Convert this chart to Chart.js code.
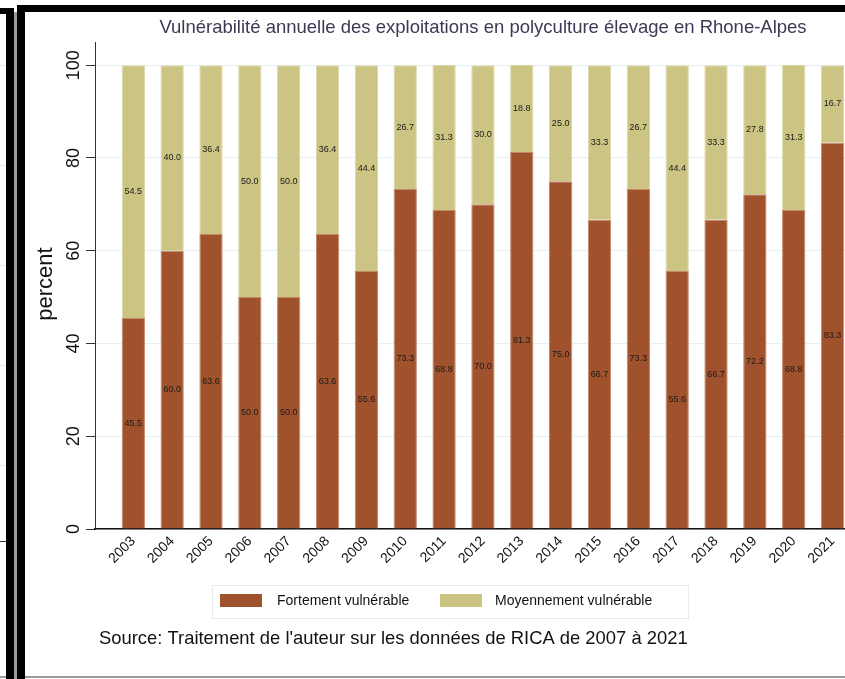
<!DOCTYPE html>
<html><head><meta charset="utf-8">
<script src="https://cdn.jsdelivr.net/npm/chart.js@4/dist/chart.umd.min.js"></script>
<style>
html,body{margin:0;padding:0;background:#fff;width:845px;height:679px;overflow:hidden;position:relative}
.b{position:absolute;background:#000}
.g{position:absolute;background:#9a9a9a}
.f{position:absolute;background:#e3e8ec;height:1px;left:0;width:6px}
</style></head><body>
<div class="b" style="left:0;top:8px;width:14px;height:6px"></div>
<div class="b" style="left:6px;top:8px;width:8px;height:671px"></div>
<div class="g" style="left:14px;top:12px;width:3px;height:667px"></div>
<div class="b" style="left:17px;top:5px;width:828px;height:7px"></div>
<div class="b" style="left:17px;top:5px;width:8px;height:674px"></div>
<div class="g" style="left:25px;top:676px;width:820px;height:2px"></div>
<div class="g" style="left:0;top:676px;width:6px;height:2px"></div>
<div class="f" style="top:65px"></div>
<div class="f" style="top:165px"></div>
<div class="f" style="top:265px"></div>
<div class="f" style="top:365px"></div>
<div class="f" style="top:465px"></div>
<div class="f" style="top:541px;background:#333"></div>
<canvas id="c" width="820" height="664" style="position:absolute;left:25px;top:12px"></canvas>
<script>
const years = ['2003','2004','2005','2006','2007','2008','2009','2010','2011','2012','2013','2014','2015','2016','2017','2018','2019','2020','2021'];
const fortement = [45.5,60.0,63.6,50.0,50.0,63.6,55.6,73.3,68.8,70.0,81.3,75.0,66.7,73.3,55.6,66.7,72.2,68.8,83.3];
const moyennement = [54.5,40.0,36.4,50.0,50.0,36.4,44.4,26.7,31.3,30.0,18.8,25.0,33.3,26.7,44.4,33.3,27.8,31.3,16.7];
const seriesNames = ['Fortement vulnérable','Moyennement vulnérable'];
const titleText = 'Vulnérabilité annuelle des exploitations en polyculture élevage en Rhone-Alpes';
const sourceText = "Source: Traitement de l'auteur sur les données de RICA de 2007 à 2021";
const yAxisTitle = 'percent';

const FONT = '"Liberation Sans", Arial, sans-serif';

const deco = {
  id: 'deco',
  afterDatasetsDraw(chart) {
    const ctx = chart.ctx;
    ctx.save();
    ctx.font = '9px ' + FONT;
    ctx.fillStyle = '#1a1a1a';
    ctx.textAlign = 'center';
    ctx.textBaseline = 'middle';
    chart.data.datasets.forEach((ds, di) => {
      const meta = chart.getDatasetMeta(di);
      meta.data.forEach((bar, i) => {
        const v = ds.data[i];
        ctx.fillText(v.toFixed(1), bar.x, (bar.y + bar.base) / 2);
      });
    });
    ctx.restore();
  },
  afterDraw(chart) {
    const ctx = chart.ctx;
    const ys = chart.scales.y;
    ctx.save();
    // title
    ctx.fillStyle = '#3a3a55';
    ctx.font = '18.5px ' + FONT;
    ctx.textAlign = 'center';
    ctx.textBaseline = 'middle';
    ctx.fillText(titleText, 458, 16);
    // y tick labels (rotated)
    ctx.fillStyle = '#111';
    ctx.font = '18px ' + FONT;
    ys.ticks.forEach(t => {
      const py = ys.getPixelForValue(t.value);
      ctx.save();
      ctx.translate(49, py);
      ctx.rotate(-Math.PI / 2);
      ctx.fillText(String(t.value), 0, 0);
      ctx.restore();
    });
    // y axis title
    ctx.save();
    ctx.font = '22px ' + FONT;
    ctx.translate(21, 272);
    ctx.rotate(-Math.PI / 2);
    ctx.fillText(yAxisTitle, 0, 0);
    ctx.restore();
    // legend
    ctx.strokeStyle = '#e6ecee';
    ctx.lineWidth = 1;
    ctx.strokeRect(187.5, 573.5, 476, 33);
    const sw = [[195, 252], [415, 470]];
    ctx.font = '14px ' + FONT;
    ctx.textAlign = 'left';
    chart.data.datasets.forEach((ds, i) => {
      ctx.fillStyle = ds.backgroundColor;
      ctx.fillRect(sw[i][0], 582, 42, 13);
      ctx.fillStyle = '#111';
      ctx.fillText(ds.label, sw[i][1], 589);
    });
    // source
    ctx.font = '18.4px ' + FONT;
    ctx.fillStyle = '#111';
    ctx.fillText(sourceText, 74, 627);
    ctx.restore();
  }
};

new Chart(document.getElementById('c'), {
  type: 'bar',
  data: {
    labels: years,
    datasets: [
      { label: seriesNames[0], data: fortement, backgroundColor: '#A0522D', borderColor: '#c4876a', borderWidth: 1 },
      { label: seriesNames[1], data: moyennement, backgroundColor: '#CCC483', borderColor: '#ddd6a6', borderWidth: 1 }
    ]
  },
  options: {
    responsive: false,
    animation: false,
    layout: { padding: { left: 0, right: 0, top: 30, bottom: 0 } },
    plugins: { legend: { display: false }, title: { display: false }, tooltip: { enabled: false } },
    datasets: { bar: { categoryPercentage: 1, barPercentage: 0.6 } },
    scales: {
      x: {
        type: 'linear',
        stacked: true,
        offset: false,
        min: 2002.014,
        max: 2021.32,
        afterFit: s => { s.height = 147; s.paddingLeft = 0; s.paddingRight = 0; },
        grid: { display: false, drawTicks: false, offset: false },
        border: { display: true, color: '#111', width: 1.5 },
        ticks: {
          stepSize: 1,
          includeBounds: false,
          autoSkip: false,
          minRotation: 45,
          maxRotation: 45,
          padding: 4,
          color: '#111',
          font: { family: FONT, size: 14 },
          callback: v => years[v - 2003]
        }
      },
      y: {
        stacked: true,
        min: 0,
        max: 105,
        afterFit: s => { s.width = 70; s.paddingTop = 0; s.paddingBottom = 0; },
        grid: { color: '#e6eff1', lineWidth: 1, drawTicks: true, tickLength: 9, tickColor: '#333' },
        border: { display: true, color: '#333', width: 1 },
        ticks: { stepSize: 20, includeBounds: false, display: false }
      }
    }
  },
  plugins: [deco]
});
</script>
</body></html>
